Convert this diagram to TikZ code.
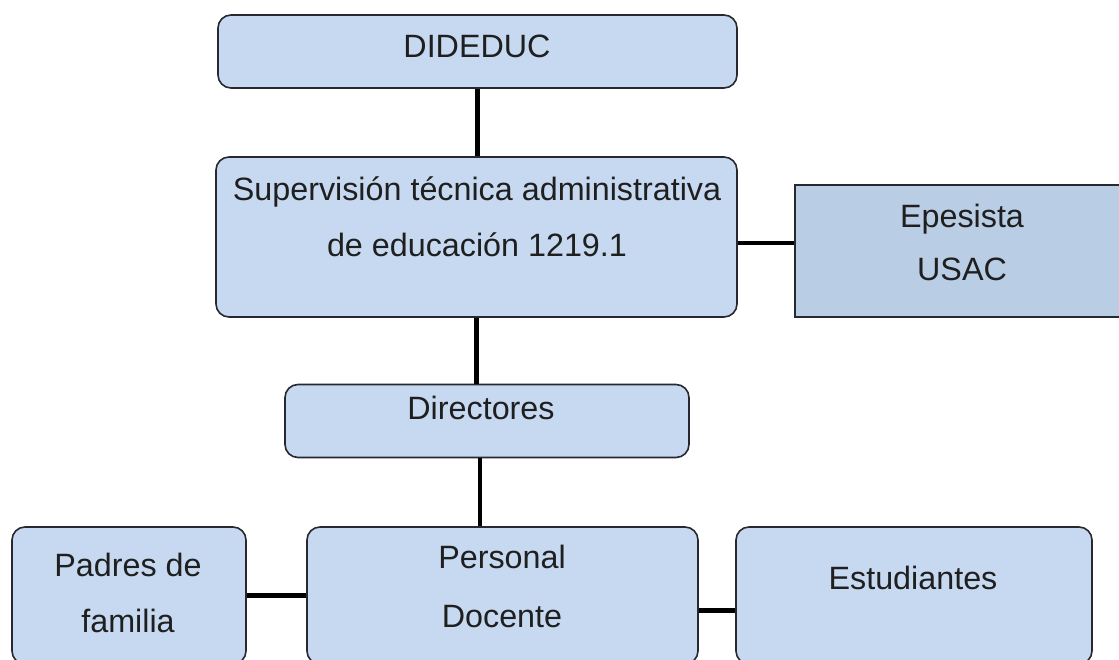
\documentclass[tikz,border=0pt]{standalone}
\usepackage{fontspec}
\setmainfont{Liberation Sans}

\definecolor{azul}{RGB}{198,217,240}
\definecolor{azulosc}{RGB}{185,205,229}
\definecolor{borde}{RGB}{40,40,48}

\tikzset{
  caja/.style={draw=borde,line width=1.6pt,fill=azul,rounded corners=13pt,inner sep=0pt},
  cajaosc/.style={draw=borde,line width=1.6pt,fill=azulosc,inner sep=0pt},
  texto/.style={text=black!88,font=\fontsize{32.3}{36}\selectfont,inner sep=0pt,anchor=base},
  linea/.style={line width=4.5pt}
}

\begin{document}
\begin{tikzpicture}[x=1pt,y=-1pt]
  \useasboundingbox (0,0) rectangle (1119,660);

  % cajas
  \draw (477.5,51.5) node[caja,minimum width=519pt,minimum height=73pt] (dd) {};
  \draw (476.5,237) node[caja,minimum width=521pt,minimum height=160pt] (sup) {};
  \draw (960,251) node[cajaosc,minimum width=330pt,minimum height=132pt] (epe) {};
  \draw (487,421) node[caja,minimum width=404pt,minimum height=73pt] (dir) {};
  \draw (129,595.5) node[caja,minimum width=234pt,minimum height=137pt] (pad) {};
  \draw (502.5,595.5) node[caja,minimum width=391pt,minimum height=137pt] (per) {};
  \draw (914,595.5) node[caja,minimum width=356pt,minimum height=137pt] (est) {};

  % lineas
  \draw[linea] (dd.south) -- (dd.south |- sup.north);
  \draw[linea] (sup.south) -- (sup.south |- dir.north);
  \draw[linea] ([yshift=-6pt]sup.east) -- ([yshift=-6pt]sup.east -| epe.west);
  \draw[linea] ([xshift=-7pt]dir.south) -- ([xshift=-7pt]dir.south |- per.north);
  \draw[linea] (pad.east) -- (pad.east -| per.west);
  \draw[linea] ([yshift=-15pt]per.east) -- ([yshift=-15pt]per.east -| est.west);

  % textos
  \draw (477,58) node[texto] (tdd) {DIDEDUC};
  \draw (477,201) node[texto] (tsup1) {Supervisión técnica administrativa}
  ++(0,56) node[texto] (tsup2) {de educación 1219.1};
  \draw (962,228) node[texto] (tepe1) {Epesista}
  ++(0,53) node[texto] (tepe2) {USAC};
  \draw (481,419) node[texto] (tdir) {Directores};
  \draw (128,576) node[texto] (tpad1) {Padres de}
  ++(0,56) node[texto] (tpad2) {familia};
  \draw (502,568) node[texto] (tper1) {Personal}
  ++(0,59) node[texto] (tper2) {Docente};
  \draw (913,589) node[texto] (test) {Estudiantes};

\end{tikzpicture}
\end{document}
